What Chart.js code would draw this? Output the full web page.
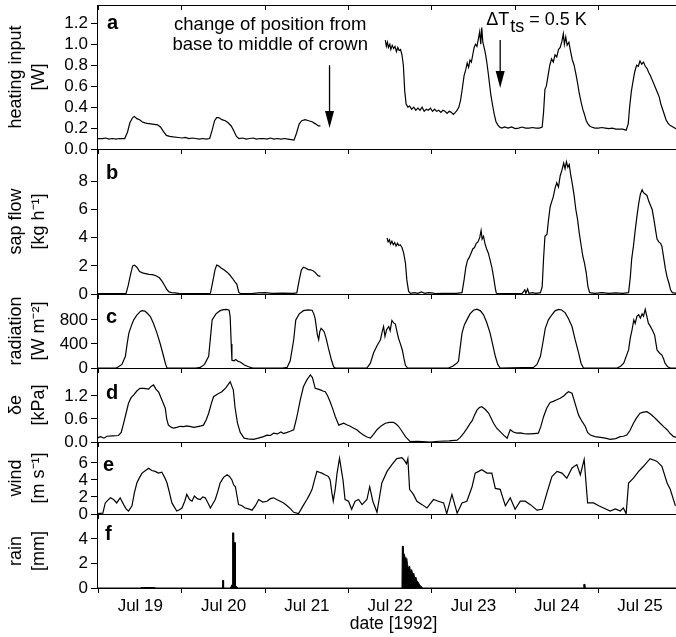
<!DOCTYPE html>
<html><head><meta charset="utf-8">
<script src="https://cdn.jsdelivr.net/npm/chart.js@4/dist/chart.umd.min.js"></script>
<style>
html,body{margin:0;padding:0;background:#fff;overflow:hidden;width:676px;height:637px;}
#wrap{position:relative;width:676px;height:637px;overflow:hidden;background:#fff;}
</style></head><body><div id="wrap"></div>
<script>
const FONT = '"Liberation Sans", Arial, Helvetica, sans-serif';

// ---- tick labels ----
const dayLabels = ['Jul 19','Jul 20','Jul 21','Jul 22','Jul 23','Jul 24','Jul 25'];
const dayTickValues = [0,0.5,1,1.5,2,2.5,3,3.5,4,4.5,5,5.5,6,6.5,7];
const heatTicks = [0,0.2,0.4,0.6,0.8,1.0,1.2];
const sapTicks = [0,2,4,6,8];
const radTicks = [0,400,800];
const vpdTicks = [0,0.6,1.2];
const windTicks = [0,2,4,6];
const rainTicks = [0,2,4];

// ---- series: [hours since Jul 19 00:00, value] ----
const heat1 = [[-0.5,0.10],[1,0.10],[2,0.105],[3,0.095],[4,0.10],[5,0.095],[6,0.10],[7.5,0.10],[8.3,0.16],[9,0.25],[9.8,0.30],[10.3,0.31],[11,0.29],[11.8,0.28],[12.5,0.26],[13.3,0.25],[14,0.245],[15,0.24],[16,0.235],[17,0.23],[17.8,0.21],[18.6,0.17],[19.5,0.13],[20.5,0.12],[21.5,0.115],[23,0.11],[24,0.105],[25,0.11],[26,0.10],[27,0.105],[28,0.10],[29,0.095],[30,0.10],[31,0.095],[32,0.10],[32.7,0.18],[33.4,0.27],[34,0.30],[34.6,0.30],[35.5,0.28],[36.5,0.27],[37.3,0.25],[38.2,0.22],[39,0.17],[39.7,0.12],[40.4,0.10],[41.5,0.105],[42.5,0.095],[43.5,0.10],[44.5,0.105],[45.5,0.095],[46.5,0.10],[47.5,0.10],[48.5,0.095],[49.5,0.105],[50.5,0.095],[51.5,0.10],[52.5,0.095],[53.5,0.10],[54.5,0.095],[55.5,0.09],[56.3,0.085],[57,0.15],[57.8,0.24],[58.5,0.27],[59.5,0.28],[60.5,0.27],[61.5,0.26],[62.5,0.24],[63.3,0.22],[63.9,0.22]];
const heat2 = [[82.6,1.04],[82.9,0.98],[83.2,1.02],[83.5,0.97],[83.9,1.0],[84.2,0.95],[84.6,0.99],[85,0.96],[85.4,0.98],[85.8,0.93],[86.2,0.97],[86.6,0.94],[87,0.95],[87.4,0.90],[87.8,0.80],[88.2,0.55],[88.6,0.43],[89.1,0.40],[89.6,0.41],[90.2,0.38],[90.8,0.40],[91.4,0.37],[92,0.39],[92.6,0.37],[93.2,0.40],[93.8,0.36],[94.4,0.38],[95,0.37],[95.6,0.39],[96.2,0.36],[96.8,0.38],[97.4,0.36],[98,0.37],[98.6,0.35],[99.2,0.37],[99.8,0.36],[100.4,0.34],[101,0.36],[101.6,0.35],[102.2,0.33],[102.8,0.35],[103.3,0.37],[103.8,0.40],[104.3,0.47],[104.8,0.58],[105.3,0.70],[105.8,0.76],[106.2,0.82],[106.6,0.78],[107,0.85],[107.4,0.83],[107.8,0.90],[108.2,0.97],[108.6,1.0],[109,0.98],[109.4,1.05],[109.8,1.12],[110.1,1.0],[110.4,1.16],[110.7,1.02],[111,0.98],[111.4,0.92],[111.8,0.84],[112.2,0.74],[112.6,0.63],[113,0.52],[113.5,0.42],[114,0.33],[114.5,0.26],[115,0.23],[115.5,0.21],[116.2,0.20],[117,0.21],[118,0.20],[119,0.21],[120,0.195],[121,0.20],[122,0.21],[123,0.20],[124,0.20],[125,0.205],[126,0.20],[127,0.20],[127.8,0.21],[128.2,0.35],[128.6,0.57],[129,0.60],[129.5,0.70],[130,0.80],[130.5,0.86],[131,0.83],[131.5,0.90],[132,0.88],[132.5,0.95],[133,0.97],[133.5,1.03],[133.9,1.10],[134.2,1.0],[134.6,1.07],[135,0.99],[135.5,1.02],[136,0.93],[136.5,0.85],[137,0.80],[137.5,0.72],[138,0.63],[138.5,0.53],[139,0.45],[139.5,0.38],[140,0.33],[140.5,0.27],[141,0.24],[141.5,0.22],[142,0.21],[143,0.20],[144,0.20],[145,0.205],[146,0.20],[147,0.195],[148,0.20],[149,0.19],[150,0.19],[151,0.19],[152,0.18],[152.6,0.24],[153,0.40],[153.5,0.55],[154,0.65],[154.5,0.74],[155,0.80],[155.5,0.79],[156,0.84],[156.5,0.81],[157,0.83],[157.5,0.79],[158,0.77],[158.5,0.73],[159,0.70],[159.5,0.66],[160,0.62],[160.5,0.58],[161,0.54],[161.5,0.50],[162,0.43],[162.5,0.38],[163,0.33],[163.5,0.28],[164,0.25],[164.5,0.23],[165,0.22],[165.5,0.21],[166,0.20],[166.6,0.19]];

const sap1 = [[-0.5,0.02],[2,0.03],[4,0.02],[6,0.03],[7.9,0.05],[8.5,0.6],[9.2,1.4],[9.8,2.0],[10.3,2.05],[11,1.9],[11.8,1.6],[12.6,1.5],[13.5,1.45],[14.5,1.4],[15.5,1.38],[16.5,1.3],[17.5,1.15],[18.3,0.9],[19,0.6],[19.7,0.3],[20.3,0.15],[21,0.1],[22,0.08],[23,0.05],[25,0.02],[28,0.03],[31,0.02],[32.2,0.05],[32.9,0.9],[33.5,1.7],[34,2.05],[34.5,2.0],[35.3,1.85],[36.2,1.7],[37,1.55],[37.8,1.35],[38.6,1.1],[39.3,0.85],[39.8,0.7],[40.4,0.1],[41,0.02],[44,0.03],[46,0.08],[48,0.1],[50,0.05],[53,0.06],[56,0.04],[57.1,0.08],[57.8,1.0],[58.4,1.7],[59,1.9],[59.6,1.85],[60.3,1.75],[61,1.72],[61.8,1.65],[62.5,1.5],[63.2,1.3],[63.9,1.25]];
const sap2 = [[83.1,3.98],[83.4,3.7],[83.8,3.85],[84.1,3.55],[84.5,3.75],[84.9,3.5],[85.3,3.65],[85.7,3.4],[86.1,3.6],[86.5,3.45],[86.9,3.5],[87.4,3.3],[87.9,2.9],[88.4,2.2],[88.8,1.0],[89.3,0.2],[89.8,0.05],[91,0.1],[92,0.05],[93,0.15],[94,0.05],[95,0.1],[96,0.08],[97,0.03],[99,0.05],[101,0.04],[103,0.05],[104.7,0.1],[105.3,1.0],[105.8,1.9],[106.3,2.4],[106.8,2.6],[107.3,2.9],[107.8,3.2],[108.3,3.3],[108.8,3.6],[109.3,3.7],[109.8,4.0],[110.2,4.5],[110.5,3.9],[110.9,4.1],[111.3,3.6],[111.8,3.2],[112.3,2.9],[112.8,2.4],[113.3,1.9],[113.8,1.2],[114.3,0.4],[114.6,0.05],[116,0.02],[118,0.03],[120,0.02],[122,0.02],[122.8,0.3],[123.1,0.05],[123.6,0.35],[124,0.05],[125,0.1],[126,0.05],[127.3,0.1],[127.8,0.5],[128.2,2.5],[128.6,4.1],[129.2,4.25],[129.6,5.2],[130.1,6.2],[130.6,6.6],[131,6.9],[131.5,7.5],[132,7.9],[132.5,7.6],[133,8.4],[133.5,8.8],[134,9.3],[134.4,8.9],[134.8,9.4],[135.2,9.0],[135.6,9.2],[136,8.5],[136.5,7.8],[137,7.0],[137.5,6.0],[138,5.3],[138.5,4.3],[139,3.5],[139.5,2.7],[140,2.2],[140.5,1.5],[141,0.5],[141.5,0.1],[143,0.05],[145,0.1],[147,0.05],[149,0.08],[151,0.05],[152.7,0.1],[153.2,1.2],[153.6,2.5],[154.1,3.4],[154.6,4.5],[155.1,5.5],[155.6,6.4],[156.1,7.1],[156.6,7.4],[157,7.2],[157.5,7.1],[158,7.0],[158.5,6.6],[159,6.3],[159.5,6.0],[160,5.3],[160.5,4.5],[160.9,3.9],[161.4,3.7],[161.9,3.6],[162.3,3.4],[162.8,2.6],[163.3,1.8],[163.8,1.2],[164.3,0.8],[164.8,0.3],[165.3,0.1],[166.6,0.05]];

const radiation = [[-0.5,0],[5,0],[5.7,20],[6.7,60],[7.7,195],[8.2,400],[8.7,580],[9.4,700],[10.1,800],[11,880],[12,940],[12.5,953],[13.3,945],[14.1,905],[14.9,855],[15.8,740],[16.8,580],[17.8,390],[18.7,195],[19.3,60],[19.7,0],[28,0],[29.3,10],[30.5,60],[31.7,195],[32.2,500],[32.7,800],[33.8,900],[35,953],[36,970],[36.9,975],[37.6,960],[37.9,850],[38.2,400],[38.4,130],[39,120],[39.5,140],[40.2,110],[40.8,100],[42,50],[43.2,20],[44.4,0],[53,0],[54.3,10],[55.2,120],[56.2,470],[56.8,800],[57.8,900],[59,953],[60.3,965],[61.5,960],[62,900],[62.4,815],[63,560],[63.4,470],[63.7,600],[64.1,660],[64.6,630],[65,600],[65.6,480],[66.2,330],[67,150],[67.7,20],[68.2,0],[77.3,0],[78.3,80],[79.2,250],[80.2,370],[81.2,470],[81.7,600],[82.1,690],[82.5,525],[83,640],[83.6,690],[84,620],[84.5,790],[85,750],[85.5,730],[85.9,620],[86.4,495],[86.9,410],[87.5,300],[88,150],[88.4,45],[89,0],[100.8,0],[102,30],[103.2,80],[103.7,115],[104.2,350],[104.7,580],[105.4,720],[106.1,800],[107,900],[108,960],[109,977],[110,950],[110.9,885],[111.8,760],[112.8,580],[113.5,400],[114.3,195],[115,60],[115.7,0],[125.3,10],[126.3,60],[127.3,195],[128,420],[128.7,660],[129.6,800],[130.6,885],[131.5,950],[132.5,975],[133.4,965],[134.4,920],[135.4,820],[136.4,690],[137.3,470],[138.3,250],[139,80],[139.7,0],[149.4,0],[150.4,30],[151.3,80],[152.7,300],[153.2,500],[153.7,635],[154.2,800],[154.6,740],[155.1,860],[155.6,885],[156.1,830],[156.6,900],[157,860],[157.5,975],[158,850],[158.4,745],[158.9,700],[159.5,635],[160.2,550],[160.9,300],[161.6,250],[162.3,215],[162.8,150],[163.2,80],[164,20],[164.7,0],[166.6,0]];

const vpd = [[-0.5,0.08],[0,0.12],[0.6,0.14],[1.5,0.10],[2.4,0.15],[4,0.16],[5.7,0.17],[6.5,0.25],[7.2,0.49],[7.9,0.75],[8.6,1.01],[9.3,1.15],[10.1,1.23],[11,1.33],[11.9,1.40],[13,1.40],[14.4,1.38],[15.1,1.45],[15.8,1.49],[16.5,1.38],[17.3,1.30],[18.2,1.10],[19.2,0.88],[19.6,0.6],[20.1,0.44],[21,0.38],[21.6,0.36],[22.5,0.38],[23.5,0.41],[24.5,0.40],[25.4,0.42],[26.5,0.40],[27.5,0.38],[28.5,0.40],[29.5,0.42],[30.2,0.44],[31,0.58],[31.7,0.75],[32.4,0.98],[33.1,1.18],[34.3,1.25],[35.5,1.31],[36.7,1.42],[37.5,1.52],[37.9,1.57],[38.4,1.45],[38.8,1.36],[39.3,0.9],[40,0.49],[40.8,0.25],[41.9,0.10],[43,0.08],[44.6,0.07],[46,0.10],[47.5,0.14],[48.5,0.18],[49.5,0.17],[50.4,0.23],[51.5,0.21],[52.5,0.26],[53.3,0.22],[54.3,0.25],[55.2,0.28],[56.2,0.32],[57.1,0.65],[58.1,1.10],[59,1.44],[60,1.62],[61,1.75],[61.6,1.68],[62.4,1.40],[63.2,1.38],[63.9,1.36],[64.6,1.33],[65.3,1.31],[66,1.20],[66.7,1.05],[67.5,0.85],[68.2,0.66],[69.2,0.44],[70.6,0.49],[71.5,0.45],[72.5,0.41],[73.5,0.36],[74.4,0.32],[75.3,0.25],[76.3,0.18],[77.3,0.13],[78.3,0.10],[79.2,0.20],[80.2,0.32],[81.4,0.42],[82.6,0.49],[83.8,0.51],[85,0.51],[85.7,0.47],[86.4,0.41],[87.4,0.28],[88.4,0.14],[89.8,0.01],[92,0.02],[95.6,0.0],[98,0.02],[101,0.03],[103.3,0.05],[104.2,0.12],[105.2,0.23],[106.1,0.35],[107.1,0.49],[107.6,0.55],[108.2,0.68],[109,0.83],[109.7,0.90],[110.4,0.92],[111,0.88],[111.5,0.84],[112.4,0.75],[113.1,0.62],[113.8,0.49],[114.7,0.36],[115.7,0.27],[116.7,0.18],[117.7,0.10],[118.1,0.20],[118.6,0.32],[119.5,0.26],[120.5,0.23],[121.5,0.24],[122.5,0.22],[123.5,0.21],[124.4,0.21],[125.5,0.22],[126.7,0.23],[127.4,0.40],[128.2,0.66],[129.1,0.88],[130.1,1.03],[131,1.06],[132,1.10],[133,1.14],[134,1.20],[134.8,1.27],[135.4,1.31],[136.4,1.27],[137.3,1.0],[138.3,0.70],[139.2,0.55],[140.2,0.41],[140.9,0.25],[141.7,0.18],[143,0.14],[144.6,0.12],[146,0.10],[147.4,0.07],[149,0.09],[150.3,0.14],[151.2,0.15],[152.2,0.18],[153.1,0.30],[154.1,0.49],[155,0.63],[156,0.75],[157,0.78],[158,0.79],[159,0.73],[159.9,0.66],[160.8,0.58],[161.8,0.49],[162.8,0.40],[163.8,0.32],[164.7,0.22],[165.7,0.14],[166.6,0.12]];

const wind = [[-0.5,0.05],[0.5,0.08],[1.2,0.1],[1.9,1.3],[2.6,1.6],[3.4,1.9],[4.3,1.7],[5.2,1.3],[5.7,1.6],[6.2,1.9],[7.2,1.1],[7.9,0.6],[8.6,0.35],[9.6,0.96],[10.3,2.5],[11,3.64],[11.8,4.3],[12.5,4.8],[13.5,5.1],[14.4,5.38],[15.3,5.1],[16.3,5.0],[17.2,4.8],[18.2,4.9],[19,4.3],[19.7,3.64],[20.4,2.5],[21.1,1.3],[22.5,0.35],[23.3,0.5],[24,0.7],[24.8,1.5],[25.4,2.3],[26.2,1.7],[26.9,1.5],[27.6,2.1],[28.4,1.8],[29.3,1.7],[30,2.0],[30.7,1.9],[31.5,1.3],[32.2,0.7],[33.6,1.7],[34.3,2.6],[35,3.64],[36,4.3],[37,4.6],[37.7,4.4],[38.4,4.0],[38.9,3.4],[39.4,3.2],[40.3,1.1],[41.2,1.0],[42.2,0.7],[43.2,0.6],[44.2,0.45],[45.2,1.0],[46.1,1.7],[47.3,1.4],[48.5,1.5],[49.5,1.8],[50.4,1.9],[51.3,1.7],[52.3,1.5],[53.3,1.3],[54.3,0.96],[55.3,0.6],[56.2,0.2],[57.6,0.05],[58.8,0.9],[60,1.7],[60.8,2.3],[61.5,2.9],[62.2,4.0],[62.9,5.0],[63.6,4.9],[64.3,4.8],[65.2,4.6],[66.2,4.4],[66.7,4.0],[67.2,2.5],[67.6,1.5],[68.2,3.0],[68.7,4.8],[69.4,6.55],[70.4,4.0],[71,1.7],[72,1.5],[72.9,0.55],[73.9,1.5],[74.9,1.7],[75.9,1.1],[77.3,1.7],[78.1,3.2],[79,1.5],[80.2,0.2],[81.6,3.64],[83.1,5.0],[84.5,5.8],[85.9,6.5],[87.4,6.6],[88.1,6.3],[88.7,5.9],[89.1,6.5],[89.6,2.9],[90.7,2.3],[91.7,1.5],[93.2,1.1],[94.6,0.7],[95.5,1.2],[96.5,1.7],[97.9,1.5],[99.4,1.3],[100.3,0.05],[101.8,2.3],[103.3,0.1],[104.7,1.3],[106.1,1.5],[107.6,3.2],[108.5,4.8],[109.5,5.0],[110.4,5.2],[111.9,4.8],[113.3,4.8],[114.3,3.0],[115.7,2.9],[117.2,0.96],[118.6,1.9],[120,0.55],[121.5,1.5],[122.9,1.5],[124.4,1.1],[126.3,0.45],[127.8,0.55],[129.2,2.5],[130.6,4.4],[132.1,5.0],[133.5,4.8],[134.9,4.2],[136.4,5.4],[137.8,5.8],[138.8,4.6],[139.9,6.4],[140.9,1.3],[142.6,1.3],[144.1,0.96],[145.5,0.7],[147.4,0.35],[148.9,0.6],[150.3,0.35],[151.2,0.7],[152,0.05],[152.7,3.64],[154.1,4.2],[155.6,5.0],[157,5.6],[158.9,6.5],[160.8,6.2],[162.3,5.6],[163.8,3.64],[164.7,2.9],[166.2,0.96]];

const rain = [[-0.5,0],[12,0],[12.2,0.04],[16,0.04],[16.2,0],[35.6,0],[35.7,0.62],[35.9,0.62],[36,0],[38,0],[38.2,0.15],[38.5,0.3],[38.6,4.5],[38.8,4.5],[38.9,3.7],[39.3,3.7],[39.4,0.2],[39.8,0.1],[40.2,0],[87.4,0],[87.5,3.4],[87.7,3.4],[87.8,1.5],[88,2.8],[88.3,2.5],[88.5,2.0],[88.8,2.4],[89,1.9],[89.3,1.6],[89.6,1.8],[89.9,1.3],[90.2,1.5],[90.5,1.1],[90.8,1.2],[91.1,0.8],[91.4,0.9],[91.7,0.6],[92,0.5],[92.4,0.3],[92.8,0.15],[93.3,0.05],[93.6,0],[139.7,0],[139.8,0.3],[140,0.3],[140.1,0],[166.6,0]];

// ---- annotation text ----
const noteLines = ['change of position from','base to middle of crown'];
const deltaLabel = ['\u0394T','ts',' = 0.5 K'];

// ---- layout ----
const XMIN = -0.02, XMAX = 7.1, CW = 690, LEFT = 97;
const toPts = arr => arr.map(p => ({x: p[0]/24, y: p[1]}));
const isDay = v => Math.abs(v - Math.round(v)) < 1e-6;
const lineDs = arr => ({data: toPts(arr), borderColor:'#000', borderWidth:1.2, pointRadius:0, tension:0, fill:false});

const panels = [
  {letter:'a', top:5, bottom:149, max:1.375, ticks:heatTicks, dec:1, title:['heating input','[W]'], ldy:18, ldx:10,
   datasets:[lineDs(heat1), lineDs(heat2)], topAxis:true, notes:true},
  {letter:'b', top:149, bottom:294, max:10.3, ticks:sapTicks, dec:0, title:['sap flow','[kg h\u207B\u00B9]'], ldy:24, ldx:9,
   datasets:[lineDs(sap1), lineDs(sap2)]},
  {letter:'c', top:294, bottom:368, max:1230, ticks:radTicks, dec:0, title:['radiation','[W m\u207B\u00B2]'], ldy:23, ldx:9,
   datasets:[lineDs(radiation)]},
  {letter:'d', top:368, bottom:442, max:1.93, ticks:vpdTicks, dec:1, title:['\u03B4e','[kPa]'], ldy:25, ldx:9,
   datasets:[lineDs(vpd)]},
  {letter:'e', top:442, bottom:514, max:8.45, ticks:windTicks, dec:0, title:['wind','[m s\u207B\u00B9]'], ldy:23, ldx:6,
   datasets:[lineDs(wind)]},
  {letter:'f', top:514, bottom:588, max:6.04, ticks:rainTicks, dec:0, title:['rain','[mm]'], ldy:20, ldx:8,
   datasets:[Object.assign(lineDs(rain), {fill:'origin', backgroundColor:'#000', borderWidth:1})], last:true},
];

const wrap = document.getElementById('wrap');

function drawArrow(ctx, x, y0, y1) {
  ctx.beginPath(); ctx.moveTo(x, y0); ctx.lineTo(x, y1 - 14); ctx.lineWidth = 1.3; ctx.stroke();
  ctx.beginPath(); ctx.moveTo(x - 4.5, y1 - 17); ctx.lineTo(x + 4.5, y1 - 17); ctx.lineTo(x, y1); ctx.closePath(); ctx.fill();
}

function makePanel(cfg) {
  const padTop = 5;
  const xh = cfg.last ? 637 - cfg.bottom : 8;
  const H = (cfg.bottom - cfg.top) + padTop + xh;
  const canvas = document.createElement('canvas');
  canvas.width = CW; canvas.height = H;
  canvas.style.cssText = `position:absolute;left:0;top:${cfg.top - padTop}px;width:${CW}px;height:${H}px;`;
  wrap.appendChild(canvas);

  const xTicks = s => { s.ticks = dayTickValues.map(v => ({value: v})); };
  const scales = {
    x: {type:'linear', position:'bottom', min:XMIN, max:XMAX,
      afterBuildTicks: xTicks,
      afterFit: s => { s.height = xh; s.paddingLeft = 0; s.paddingRight = 0; },
      grid: {display:true, drawOnChartArea:false, drawTicks:true, tickLength:5, tickWidth:1,
             tickColor: c => isDay(c.tick.value) ? '#000' : 'rgba(0,0,0,0)'},
      border: {display:true, color:'#000', width:1},
      ticks: {display: !!cfg.last, autoSkip:false, maxRotation:0, minRotation:0, padding:3, color:'#000',
              font:{family:FONT, size:17},
              callback: v => { const k = Math.round(v*2); return (k % 2 === 1) ? dayLabels[(k-1)/2] : ''; }},
      title: {display: !!cfg.last, text:'date [1992]', color:'#000', font:{family:FONT, size:17.5, lineHeight:1.2}, padding:{top:0, bottom:2}}
    },
    y: {type:'linear', position:'left', min:0, max:cfg.max,
      afterBuildTicks: s => { s.ticks = cfg.ticks.map(v => ({value: v})); },
      afterFit: s => { s.width = LEFT; s.paddingTop = 0; s.paddingBottom = 0; },
      grid: {display:true, drawOnChartArea:false, drawTicks:true, tickLength:6, tickWidth:1, tickColor:'#000'},
      border: {display:true, color:'#000', width:1},
      ticks: {color:'#000', padding:3, autoSkip:false, font:{family:FONT, size:17}, callback: v => Number(v).toFixed(cfg.dec)},
      title: {display:true, text:cfg.title, color:'#000', font:{family:FONT, size:18, lineHeight:1.25}, padding:{top:5, bottom:0}}
    }
  };
  if (cfg.topAxis) {
    scales.xTop = {type:'linear', position:'top', min:XMIN, max:XMAX,
      afterBuildTicks: xTicks,
      afterFit: s => { s.height = 0; s.paddingLeft = 0; s.paddingRight = 0; },
      grid: {display:true, drawOnChartArea:false, drawTicks:true, tickLength:-5, tickWidth:1,
             tickColor: c => isDay(c.tick.value) ? '#000' : 'rgba(0,0,0,0)'},
      border: {display:true, color:'#000', width:1},
      ticks: {display:false}
    };
  }

  const labelPlugin = {
    id: 'panelLabel' + cfg.letter,
    afterDatasetsDraw(chart) {
      const {ctx, chartArea, scales:{x, y}} = chart;
      ctx.save();
      ctx.fillStyle = '#000'; ctx.strokeStyle = '#000';
      ctx.font = 'bold 20px ' + FONT; ctx.textAlign = 'left'; ctx.textBaseline = 'middle';
      ctx.fillText(cfg.letter, chartArea.left + cfg.ldx, chartArea.top + cfg.ldy);
      if (cfg.notes) {
        ctx.font = '18.5px ' + FONT; ctx.textAlign = 'center';
        ctx.fillText(noteLines[0], x.getPixelForValue(2.06), y.getPixelForValue(1.184));
        ctx.fillText(noteLines[1], x.getPixelForValue(2.06), y.getPixelForValue(0.993));
        drawArrow(ctx, x.getPixelForValue(2.772), y.getPixelForValue(0.80), y.getPixelForValue(0.20));
        drawArrow(ctx, x.getPixelForValue(4.821), y.getPixelForValue(1.04), y.getPixelForValue(0.582));
        ctx.textAlign = 'left';
        ctx.font = '18px ' + FONT;
        let px = x.getPixelForValue(4.653);
        const py = y.getPixelForValue(1.231);
        ctx.fillText(deltaLabel[0], px, py); px += ctx.measureText(deltaLabel[0]).width + 1;
        ctx.fillText(deltaLabel[1], px, py + 7); px += ctx.measureText(deltaLabel[1]).width;
        ctx.fillText(deltaLabel[2], px, py);
      }
      ctx.restore();
    }
  };

  new Chart(canvas, {
    type:'line',
    data:{datasets: cfg.datasets},
    options:{
      responsive:false, maintainAspectRatio:false, animation:false, devicePixelRatio:1,
      layout:{padding:{top:padTop, left:0, right:0, bottom:0}},
      plugins:{legend:{display:false}, tooltip:{enabled:false}, title:{display:false}},
      scales
    },
    plugins:[labelPlugin]
  });
}

panels.forEach(makePanel);
</script>
</body></html>
